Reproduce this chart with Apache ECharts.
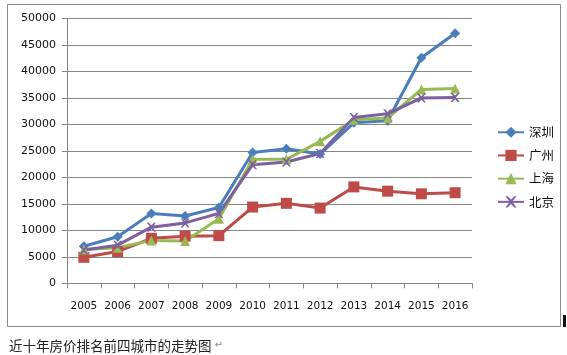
<!DOCTYPE html>
<html>
<head>
<meta charset="utf-8">
<script src="https://cdn.jsdelivr.net/npm/echarts@6/dist/echarts.min.js"></script>
<style>
html,body{margin:0;padding:0;background:#fff;}
#c{width:567px;height:355px;}
</style>
</head>
<body>
<div id="c"></div>
<script>
var years = ['2005','2006','2007','2008','2009','2010','2011','2012','2013','2014','2015','2016'];
var shenzhen  = [7000, 8800, 13200, 12700, 14300, 24700, 25400, 24400, 30300, 30700, 42600, 47200];
var guangzhou = [4900, 6000, 8500, 8900, 9000, 14400, 15100, 14200, 18200, 17400, 16900, 17100];
var shanghai  = [6400, 6700, 8100, 8000, 12200, 23400, 23400, 26800, 30900, 31200, 36600, 36800];
var beijing   = [6300, 7200, 10600, 11400, 13200, 22400, 22900, 24500, 31300, 32000, 35000, 35100];
var names = ['深圳','广州','上海','北京'];
var yTicks = {min: 0, max: 50000, interval: 5000};
var caption = '近十年房价排名前四城市的走势图';

var colors = ['#4A7EBB', '#BE4B48', '#98B954', '#7D60A0'];
var crossPath = 'path://M0,0 L2,0 L5,3 L8,0 L10,0 L6,5 L10,10 L8,10 L5,7 L2,10 L0,10 L4,5 Z';

function mk(name, data, color, symbol, size) {
  return {
    name: name, type: 'line', data: data,
    symbol: symbol, symbolSize: size, showSymbol: true,
    lineStyle: {color: color, width: 3},
    itemStyle: {color: color},
    emphasis: {disabled: true},
    animation: false
  };
}

var chart = echarts.init(document.getElementById('c'), null, {renderer: 'canvas'});
chart.setOption({
  animation: false,
  backgroundColor: '#fff',
  title: {
    text: caption + ' {a|↵}',
    left: 4, top: 334,
    textStyle: {fontFamily: 'Noto Sans CJK SC', fontSize: 13.5, fontWeight: 'normal', color: '#222',
      rich: {a: {fontFamily: 'DejaVu Sans', fontSize: 10, color: '#888'}}}
  },
  graphic: [
    {type: 'rect', shape: {x: 7.5, y: 4.5, width: 553, height: 322}, style: {fill: 'none', stroke: '#8a8a8a', lineWidth: 1}, z: -1},
    {type: 'rect', shape: {x: 563, y: 315, width: 3, height: 12}, style: {fill: '#111'}}
  ],
  legend: {
    orient: 'vertical', left: 492, top: 121,
    itemWidth: 26, itemHeight: 14, itemGap: 10.7,
    textStyle: {fontFamily: 'Noto Sans CJK SC', fontSize: 12.5, color: '#111'},
    data: names
  },
  grid: {left: 67, right: 95, top: 18.5, bottom: 71.7, containLabel: false},
  xAxis: {
    type: 'category', data: years, boundaryGap: true,
    axisLine: {lineStyle: {color: '#868686', width: 1}},
    axisTick: {show: true, length: 5, interval: 0, lineStyle: {color: '#868686'}},
    axisLabel: {fontFamily: 'DejaVu Sans', fontSize: 10.5, color: '#111', margin: 17, interval: 0}
  },
  yAxis: {
    type: 'value', min: yTicks.min, max: yTicks.max, interval: yTicks.interval,
    axisLine: {show: true, lineStyle: {color: '#868686', width: 1}},
    axisTick: {show: true, length: 5, lineStyle: {color: '#868686'}},
    splitLine: {show: true, lineStyle: {color: '#868686', width: 1}},
    axisLabel: {fontFamily: 'DejaVu Sans', fontSize: 11, color: '#111', margin: 11,
      formatter: function (v) { return String(v); }}
  },
  series: [
    mk(names[0], shenzhen, colors[0], 'diamond', 10),
    mk(names[1], guangzhou, colors[1], 'rect', 11),
    mk(names[2], shanghai, colors[2], 'triangle', 10),
    mk(names[3], beijing, colors[3], crossPath, 9)
  ]
});
</script>
</body>
</html>
